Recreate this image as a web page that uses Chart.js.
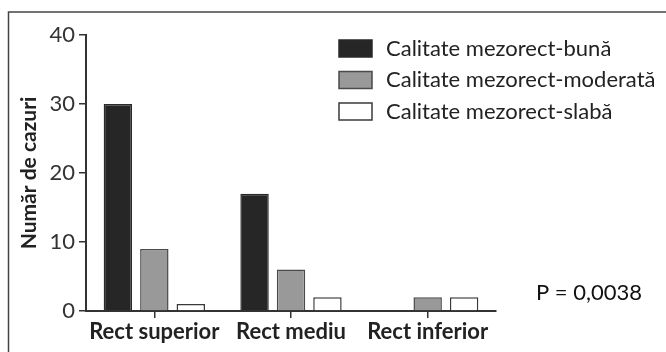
<!DOCTYPE html>
<html>
<head>
<meta charset="utf-8">
<script src="https://cdn.jsdelivr.net/npm/chart.js@4.4.1/dist/chart.umd.min.js"></script>
<style>
  html, body { margin: 0; padding: 0; background: #fff; }
  #wrap { width: 666px; height: 352px; position: relative; }
</style>
</head>
<body>
<div id="wrap"><canvas id="c" width="666" height="352"></canvas></div>
<script>
// Segments of the rectum
const categories = ['Rect superior', 'Rect mediu', 'Rect inferior'];

// Number of cases per mesorectal quality grade
const seriesNames = ['Calitate mezorect-bună', 'Calitate mezorect-moderată', 'Calitate mezorect-slabă'];
const goodQuality = [30, 17, 0];
const moderateQuality = [9, 6, 2];
const poorQuality = [1, 2, 2];

const yTicks = [0, 10, 20, 30, 40];
const pValueText = 'P = 0,0038';

const FONT = 'Lato, "Open Sans", sans-serif';
const fills = ['#262626', '#999999', '#ffffff'];
const strokes = ['#2a2a2a', '#4a4a4a', '#3a3a3a'];

// Thin frame along the top and left edge of the figure
const framePlugin = {
  id: 'frame',
  beforeDraw(chart) {
    const ctx = chart.ctx;
    ctx.save();
    ctx.strokeStyle = '#444';
    ctx.lineWidth = 1.5;
    ctx.beginPath();
    ctx.moveTo(8.5, 352);
    ctx.lineTo(8.5, 12);
    ctx.lineTo(666, 12);
    ctx.stroke();
    ctx.restore();
  }
};

// Legend to the right of the plot plus the p-value note
const sideTextPlugin = {
  id: 'sideText',
  afterDraw(chart) {
    const ctx = chart.ctx;
    ctx.save();
    const rows = [48.5, 80, 111.5];
    chart.data.datasets.forEach((ds, i) => {
      const y = rows[i];
      ctx.fillStyle = ds.backgroundColor;
      ctx.fillRect(339, y - 8.5, 33, 17);
      ctx.strokeStyle = ds.borderColor;
      ctx.lineWidth = 1.5;
      ctx.strokeRect(339, y - 8.5, 33, 17);
      ctx.fillStyle = '#222';
      ctx.font = '22px ' + FONT;
      ctx.textBaseline = 'middle';
      ctx.textAlign = 'left';
      ctx.fillText(ds.label, 386, y);
    });
    ctx.fillStyle = '#111';
    ctx.font = '22px ' + FONT;
    ctx.textBaseline = 'middle';
    ctx.fillText(pValueText, 536, 293);
    ctx.restore();
  }
};

const seriesValues = [goodQuality, moderateQuality, poorQuality];

new Chart(document.getElementById('c'), {
  type: 'bar',
  data: {
    labels: categories,
    datasets: seriesValues.map((vals, i) => ({
      label: seriesNames[i],
      data: vals,
      backgroundColor: fills[i],
      borderColor: strokes[i],
      borderWidth: 1.5,
      categoryPercentage: 0.8,
      barPercentage: 0.78
    }))
  },
  options: {
    responsive: false,
    animation: false,
    devicePixelRatio: 1,
    layout: { padding: { left: 0, top: 35, right: 170, bottom: 0 } },
    plugins: { legend: { display: false }, tooltip: { enabled: false } },
    scales: {
      x: {
        grid: { display: true, drawOnChartArea: false, drawTicks: true, tickLength: 7, offset: false, color: '#333', lineWidth: 1.5 },
        border: { display: true, color: '#333', width: 2 },
        ticks: { color: '#222', padding: 1, font: { family: FONT, size: 22, weight: 'bold' } },
        afterFit(scale) { scale.height = 41; }
      },
      y: {
        min: 0,
        max: 40,
        afterBuildTicks(scale) { scale.ticks = yTicks.map(v => ({ value: v })); },
        grid: { display: true, drawOnChartArea: false, drawTicks: true, tickLength: 7, color: '#333', lineWidth: 1.5 },
        border: { display: true, color: '#333', width: 2 },
        ticks: { color: '#333', padding: 4, font: { family: FONT, size: 22 } },
        title: {
          display: true,
          text: 'Număr de cazuri',
          color: '#222',
          font: { family: FONT, size: 21, weight: 'bold' },
          padding: { top: 17, bottom: 0 }
        },
        afterFit(scale) { scale.width = 86; }
      }
    }
  },
  plugins: [framePlugin, sideTextPlugin]
});
</script>
</body>
</html>
